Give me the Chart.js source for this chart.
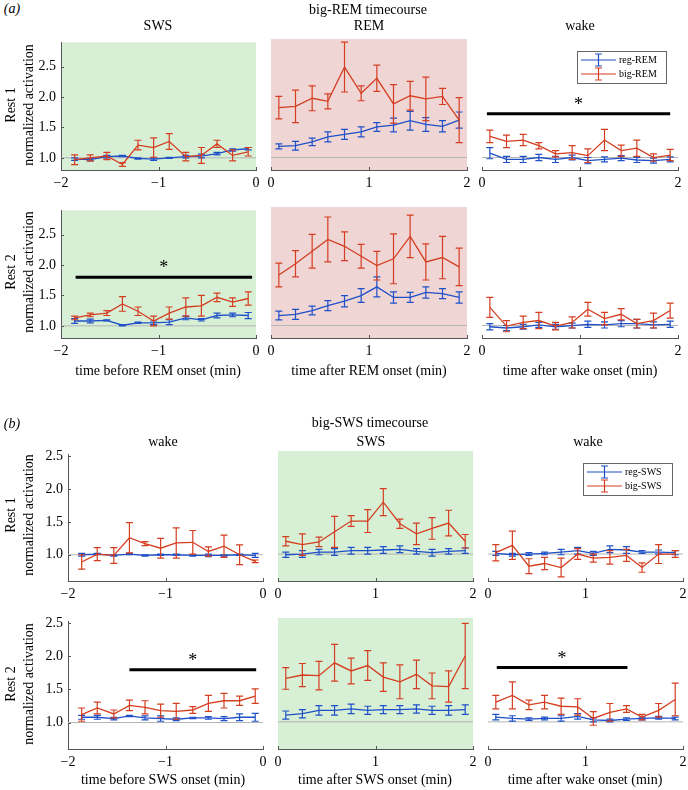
<!DOCTYPE html>
<html lang="en">
<head>
<meta charset="UTF-8">
<title>big-REM / big-SWS timecourse</title>
<script src="https://cdn.jsdelivr.net/npm/chart.js"></script>
<style>
  body { margin: 0; background: #fff; }
  #page { position: relative; width: 688px; height: 790px; overflow: hidden;
          font-family: "Liberation Serif", "DejaVu Serif", serif; color: #000; }
  #page canvas { position: absolute; }
  .lbl { position: absolute; white-space: nowrap; transform: translate(-50%, -50%);
         font-size: 14px; line-height: 1; }
  .rot { transform: translate(-50%, -50%) rotate(-90deg); }
</style>
</head>
<body>
<div id="page"></div>
<script>
// bin centres (min)
const xBefore = [-1.86, -1.70, -1.53, -1.37, -1.21, -1.05, -0.89, -0.72, -0.56, -0.40, -0.24, -0.08];
const xAfter  = [0.08, 0.25, 0.42, 0.58, 0.75, 0.92, 1.08, 1.25, 1.42, 1.58, 1.75, 1.92];
const xTicksBefore = [-2, -1, 0];
const xTicksAfter = [0, 1, 2];
const yTicks = [1.0, 1.5, 2.0, 2.5];
const seriesA = ['reg-REM', 'big-REM'];
const seriesB = ['reg-SWS', 'big-SWS'];

// (a) big-REM timecourse, Rest 1
const a1SwsBig    = [0.97, 1.00, 1.03, 0.89, 1.21, 1.17, 1.27, 1.02, 1.04, 1.23, 1.04, 1.10];
const a1SwsBigErr = [0.08, 0.05, 0.06, 0.03, 0.08, 0.16, 0.13, 0.07, 0.13, 0.06, 0.09, 0.07];
const a1SwsReg    = [0.98, 0.97, 1.02, 1.03, 0.99, 0.98, 1.00, 1.02, 1.03, 1.07, 1.13, 1.15];
const a1SwsRegErr = [0.02, 0.02, 0.02, 0.01, 0.01, 0.02, 0.01, 0.02, 0.03, 0.02, 0.02, 0.02];

const a1RemBig    = [1.80, 1.82, 1.95, 1.90, 2.45, 2.03, 2.27, 1.86, 1.99, 1.94, 1.98, 1.60];
const a1RemBigErr = [0.18, 0.26, 0.20, 0.12, 0.40, 0.12, 0.21, 0.31, 0.23, 0.35, 0.13, 0.36];
const a1RemReg    = [1.18, 1.19, 1.25, 1.33, 1.37, 1.41, 1.49, 1.52, 1.59, 1.53, 1.50, 1.60];
const a1RemRegErr = [0.04, 0.07, 0.06, 0.08, 0.08, 0.08, 0.07, 0.11, 0.15, 0.11, 0.09, 0.13];

const a1WakeBig    = [1.34, 1.26, 1.28, 1.19, 1.06, 1.08, 1.03, 1.28, 1.11, 1.15, 1.00, 1.04];
const a1WakeBigErr = [0.10, 0.10, 0.09, 0.05, 0.05, 0.11, 0.11, 0.17, 0.09, 0.13, 0.06, 0.09];
const a1WakeReg    = [1.07, 0.97, 0.97, 1.00, 0.97, 1.00, 0.95, 0.97, 0.99, 0.96, 0.95, 0.97];
const a1WakeRegErr = [0.09, 0.05, 0.05, 0.05, 0.05, 0.04, 0.05, 0.04, 0.04, 0.04, 0.04, 0.04];

// (a) Rest 2
const a2SwsBig    = [1.13, 1.18, 1.21, 1.36, 1.24, 1.08, 1.21, 1.31, 1.33, 1.47, 1.39, 1.45];
const a2SwsBigErr = [0.03, 0.03, 0.04, 0.12, 0.07, 0.08, 0.10, 0.15, 0.17, 0.07, 0.07, 0.11];
const a2SwsReg    = [1.08, 1.08, 1.09, 1.01, 1.05, 1.05, 1.06, 1.13, 1.10, 1.17, 1.18, 1.17];
const a2SwsRegErr = [0.04, 0.03, 0.01, 0.01, 0.01, 0.03, 0.04, 0.03, 0.02, 0.04, 0.03, 0.05];

const a2RemBig    = [1.81, 1.99, 2.19, 2.38, 2.27, 2.11, 1.96, 2.07, 2.43, 2.02, 2.09, 1.94];
const a2RemBigErr = [0.19, 0.21, 0.27, 0.36, 0.23, 0.19, 0.23, 0.40, 0.34, 0.29, 0.34, 0.30];
const a2RemReg    = [1.16, 1.18, 1.24, 1.32, 1.39, 1.48, 1.62, 1.45, 1.45, 1.53, 1.51, 1.45];
const a2RemRegErr = [0.07, 0.08, 0.07, 0.08, 0.09, 0.11, 0.16, 0.09, 0.08, 0.09, 0.08, 0.09];

const a2WakeBig    = [1.29, 0.99, 1.05, 1.08, 0.99, 1.05, 1.26, 1.11, 1.18, 1.03, 1.08, 1.24];
const a2WakeBigErr = [0.16, 0.09, 0.10, 0.13, 0.06, 0.09, 0.11, 0.10, 0.09, 0.07, 0.12, 0.12];
const a2WakeReg    = [0.98, 0.96, 0.98, 1.01, 0.98, 1.00, 1.02, 1.01, 1.03, 1.03, 1.01, 1.02];
const a2WakeRegErr = [0.05, 0.04, 0.04, 0.04, 0.04, 0.04, 0.05, 0.05, 0.05, 0.07, 0.05, 0.05];

// (b) big-SWS timecourse, Rest 1
const b1PreBig    = [0.89, 1.01, 0.99, 1.26, 1.17, 1.10, 1.18, 1.19, 1.05, 1.13, 1.00, 0.90];
const b1PreBigErr = [0.11, 0.10, 0.12, 0.23, 0.03, 0.15, 0.23, 0.18, 0.07, 0.17, 0.15, 0.02];
const b1PreReg    = [1.00, 1.01, 0.99, 1.01, 0.99, 1.00, 1.00, 0.99, 0.99, 0.99, 1.00, 0.99];
const b1PreRegErr = [0.02, 0.01, 0.01, 0.01, 0.01, 0.01, 0.01, 0.01, 0.02, 0.01, 0.01, 0.03];

const b1SwsBig    = [1.19, 1.14, 1.18, 1.33, 1.49, 1.49, 1.77, 1.45, 1.30, 1.38, 1.46, 1.19];
const b1SwsBigErr = [0.07, 0.16, 0.07, 0.23, 0.08, 0.17, 0.20, 0.07, 0.16, 0.16, 0.19, 0.10];
const b1SwsReg    = [0.99, 1.00, 1.03, 1.03, 1.05, 1.05, 1.06, 1.07, 1.04, 1.02, 1.04, 1.05];
const b1SwsRegErr = [0.04, 0.05, 0.04, 0.05, 0.05, 0.05, 0.05, 0.05, 0.04, 0.05, 0.04, 0.04];

const b1WakeBig    = [1.02, 1.13, 0.82, 0.86, 0.80, 1.00, 0.94, 0.95, 0.98, 0.80, 1.00, 1.00];
const b1WakeBigErr = [0.12, 0.21, 0.11, 0.09, 0.14, 0.08, 0.06, 0.10, 0.09, 0.07, 0.14, 0.05];
const b1WakeReg    = [1.01, 0.99, 1.00, 1.01, 1.03, 1.05, 1.01, 1.07, 1.06, 1.03, 1.03, 1.02];
const b1WakeRegErr = [0.03, 0.02, 0.02, 0.02, 0.04, 0.05, 0.03, 0.05, 0.05, 0.02, 0.03, 0.03];

// (b) Rest 2
const b2PreBig    = [1.12, 1.22, 1.13, 1.26, 1.23, 1.18, 1.17, 1.19, 1.29, 1.33, 1.33, 1.40];
const b2PreBigErr = [0.10, 0.09, 0.06, 0.08, 0.10, 0.10, 0.12, 0.05, 0.12, 0.11, 0.07, 0.11];
const b2PreReg    = [1.08, 1.08, 1.06, 1.10, 1.07, 1.06, 1.05, 1.07, 1.07, 1.06, 1.08, 1.08];
const b2PreRegErr = [0.03, 0.03, 0.02, 0.01, 0.03, 0.04, 0.02, 0.01, 0.02, 0.03, 0.05, 0.06];

const b2SwsBig    = [1.64, 1.69, 1.68, 1.87, 1.75, 1.83, 1.66, 1.59, 1.70, 1.53, 1.52, 1.97];
const b2SwsBigErr = [0.16, 0.17, 0.21, 0.27, 0.19, 0.22, 0.21, 0.25, 0.21, 0.19, 0.23, 0.48];
const b2SwsReg    = [1.10, 1.12, 1.17, 1.17, 1.19, 1.17, 1.18, 1.18, 1.19, 1.17, 1.17, 1.18];
const b2SwsRegErr = [0.06, 0.06, 0.07, 0.07, 0.07, 0.06, 0.06, 0.06, 0.06, 0.06, 0.07, 0.07];

const b2WakeBig    = [1.29, 1.39, 1.25, 1.29, 1.23, 1.22, 1.05, 1.14, 1.19, 1.07, 1.17, 1.33];
const b2WakeBigErr = [0.10, 0.20, 0.07, 0.10, 0.12, 0.12, 0.10, 0.13, 0.05, 0.04, 0.10, 0.24];
const b2WakeReg    = [1.07, 1.05, 1.04, 1.05, 1.05, 1.08, 1.03, 1.02, 1.04, 1.05, 1.06, 1.05];
const b2WakeRegErr = [0.04, 0.04, 0.02, 0.02, 0.04, 0.04, 0.03, 0.02, 0.02, 0.02, 0.02, 0.02];

// significance bars: [x from, x to], y level
const sigA1Wake = { x: [0.05, 1.92], y: 1.70 };
const sigA2Sws  = { x: [-1.85, -0.04], y: 1.80 };
const sigB2Pre  = { x: [-1.37, -0.07], y: 1.80 };
const sigB2Wake = { x: [0.09, 1.43], y: 1.80 };

const RED = 'rgb(212,62,32)';
const BLUE = 'rgb(30,80,200)';
const GREEN = 'rgb(215,239,213)';
const PINK = 'rgb(240,213,213)';
const REF = '#b4b4b4';
const AXIS = '#555';
const FONT = '"Liberation Serif", "DejaVu Serif", serif';

const page = document.getElementById('page');

function label(text, x, y, opts = {}) {
  const d = document.createElement('div');
  d.className = 'lbl' + (opts.rot ? ' rot' : '');
  d.textContent = text;
  d.style.left = x + 'px';
  d.style.top = y + 'px';
  if (opts.italic) d.style.fontStyle = 'italic';
  if (opts.size) d.style.fontSize = opts.size + 'px';
  page.appendChild(d);
}

// error bars, background, significance bar, legend
const panelPlugin = {
  id: 'panel',
  beforeDraw(chart, args, opts) {
    if (!opts.bg) return;
    const a = chart.chartArea, ctx = chart.ctx;
    ctx.save();
    ctx.fillStyle = opts.bg;
    ctx.fillRect(a.left, a.top, a.right - a.left, a.bottom - a.top);
    ctx.restore();
  },
  afterDatasetDraw(chart, args) {
    const ds = chart.data.datasets[args.index];
    if (!ds.err) return;
    const xs = chart.scales.x, ys = chart.scales.y, ctx = chart.ctx;
    ctx.save();
    ctx.strokeStyle = ds.borderColor;
    ctx.lineWidth = 1.2;
    ds.data.forEach((p, i) => {
      const px = xs.getPixelForValue(p.x);
      const lo = ys.getPixelForValue(p.y - ds.err[i]);
      const hi = ys.getPixelForValue(p.y + ds.err[i]);
      ctx.beginPath();
      ctx.moveTo(px, lo); ctx.lineTo(px, hi);
      ctx.moveTo(px - 3.5, lo); ctx.lineTo(px + 3.5, lo);
      ctx.moveTo(px - 3.5, hi); ctx.lineTo(px + 3.5, hi);
      ctx.stroke();
    });
    ctx.restore();
  },
  afterDraw(chart, args, opts) {
    const xs = chart.scales.x, ys = chart.scales.y, ctx = chart.ctx, a = chart.chartArea;
    ctx.save();
    // inward tick marks
    ctx.strokeStyle = AXIS;
    ctx.lineWidth = 1;
    ctx.beginPath();
    xs.ticks.forEach(t => {
      const px = Math.round(xs.getPixelForValue(t.value)) + 0.5;
      ctx.moveTo(px, a.bottom); ctx.lineTo(px, a.bottom - 3);
    });
    if (opts.yAxis) {
      ys.ticks.forEach(t => {
        const py = Math.round(ys.getPixelForValue(t.value)) + 0.5;
        ctx.moveTo(a.left, py); ctx.lineTo(a.left + 3, py);
      });
    }
    ctx.stroke();
    if (opts.sig) {
      const x0 = xs.getPixelForValue(opts.sig.x[0]);
      const x1 = xs.getPixelForValue(opts.sig.x[1]);
      const y = ys.getPixelForValue(opts.sig.y);
      ctx.strokeStyle = '#000';
      ctx.lineWidth = 3;
      ctx.beginPath();
      ctx.moveTo(x0, y); ctx.lineTo(x1, y);
      ctx.stroke();
      ctx.fillStyle = '#000';
      ctx.font = '18px ' + FONT;
      ctx.textAlign = 'center';
      ctx.textBaseline = 'alphabetic';
      ctx.fillText('*', (x0 + x1) / 2, y - 4);
    }
    if (opts.legend) {
      const lx = a.left + 95, ly = a.top + 12;
      ctx.fillStyle = '#fff';
      ctx.fillRect(lx, ly, 89, 32);
      ctx.strokeStyle = '#666';
      ctx.lineWidth = 1;
      ctx.strokeRect(lx + 0.5, ly + 0.5, 89, 32);
      [BLUE, RED].forEach((c, i) => {
        const ey = ly + 9 + i * 14;
        ctx.strokeStyle = c;
        ctx.lineWidth = 1.2;
        ctx.beginPath();
        ctx.moveTo(lx + 4, ey); ctx.lineTo(lx + 39, ey);
        const cx = lx + 21.5;
        ctx.moveTo(cx, ey - 6); ctx.lineTo(cx, ey + 6);
        ctx.moveTo(cx - 3.5, ey - 6); ctx.lineTo(cx + 3.5, ey - 6);
        ctx.moveTo(cx - 3.5, ey + 6); ctx.lineTo(cx + 3.5, ey + 6);
        ctx.stroke();
        ctx.fillStyle = '#000';
        ctx.font = '10px ' + FONT;
        ctx.textAlign = 'left';
        ctx.textBaseline = 'middle';
        ctx.fillText(opts.legend[i], lx + 42, ey + 0.5);
      });
    }
    ctx.restore();
  }
};

const PL = 45, PR = 10, PT = 10, PB = 26;

function pts(xv, yv) { return xv.map((x, i) => ({ x: x, y: yv[i] })); }

function panel(cfg) {
  const [L, T, R, B] = cfg.area;
  const cv = document.createElement('canvas');
  cv.width = (R - L) + PL + PR;
  cv.height = (B - T) + PT + PB;
  cv.style.left = (L - PL) + 'px';
  cv.style.top = (T - PT) + 'px';
  page.appendChild(cv);
  const xt = cfg.x[0] < 0 ? xTicksBefore : xTicksAfter;
  const xr = cfg.x[0] < 0 ? [-2, 0] : [0, 2];
  new Chart(cv, {
    type: 'line',
    data: {
      datasets: [
        { data: [{ x: xr[0], y: 1 }, { x: xr[1], y: 1 }], borderColor: REF, borderWidth: 1, pointRadius: 0, order: 3 },
        { data: pts(cfg.x, cfg.reg), err: cfg.regErr, borderColor: BLUE, borderWidth: 1.3, pointRadius: 0, order: 2 },
        { data: pts(cfg.x, cfg.big), err: cfg.bigErr, borderColor: RED, borderWidth: 1.3, pointRadius: 0, order: 1 }
      ]
    },
    options: {
      responsive: false,
      animation: false,
      events: [],
      layout: { padding: { top: PT, right: PR, left: 0, bottom: 0 } },
      plugins: {
        legend: { display: false },
        tooltip: { enabled: false },
        panel: { bg: cfg.bg, sig: cfg.sig, legend: cfg.legend, yAxis: cfg.yAxis }
      },
      scales: {
        x: {
          type: 'linear', min: xr[0], max: xr[1],
          afterBuildTicks: s => { s.ticks = xt.map(v => ({ value: v })); },
          afterFit: s => { s.height = PB; },
          grid: { display: true, drawOnChartArea: false, drawTicks: false },
          border: { display: true, color: AXIS, width: 1 },
          ticks: { padding: 5, color: '#000', font: { family: FONT, size: 14 },
                   callback: v => v < 0 ? '\u2212' + Math.abs(v) : String(v) }
        },
        y: {
          type: 'linear', min: cfg.yr[0], max: cfg.yr[1],
          afterBuildTicks: s => { s.ticks = yTicks.map(v => ({ value: v })); },
          afterFit: s => { s.width = PL; },
          grid: { display: true, drawOnChartArea: false, drawTicks: false },
          border: { display: !!cfg.yAxis, color: AXIS, width: 1 },
          ticks: { display: !!cfg.yAxis, padding: 5, color: '#000', font: { family: FONT, size: 14 },
                   callback: v => v.toFixed(1) }
        }
      }
    },
    plugins: [panelPlugin]
  });
}

const yRangeA = [0.8, 2.9];
const yRangeB = [0.6, 2.53];

panel({ area: [61, 39, 256, 170.5], yr: yRangeA, x: xBefore, reg: a1SwsReg, regErr: a1SwsRegErr, big: a1SwsBig, bigErr: a1SwsBigErr, bg: GREEN, yAxis: true });
panel({ area: [271, 39, 467, 170.5], yr: yRangeA, x: xAfter, reg: a1RemReg, regErr: a1RemRegErr, big: a1RemBig, bigErr: a1RemBigErr, bg: PINK });
panel({ area: [482, 39, 678, 170.5], yr: yRangeA, x: xAfter, reg: a1WakeReg, regErr: a1WakeRegErr, big: a1WakeBig, bigErr: a1WakeBigErr, sig: sigA1Wake, legend: seriesA });
panel({ area: [61, 207, 256, 338.5], yr: yRangeA, x: xBefore, reg: a2SwsReg, regErr: a2SwsRegErr, big: a2SwsBig, bigErr: a2SwsBigErr, bg: GREEN, yAxis: true, sig: sigA2Sws });
panel({ area: [271, 207, 467, 338.5], yr: yRangeA, x: xAfter, reg: a2RemReg, regErr: a2RemRegErr, big: a2RemBig, bigErr: a2RemBigErr, bg: PINK });
panel({ area: [482, 207, 678, 338.5], yr: yRangeA, x: xAfter, reg: a2WakeReg, regErr: a2WakeRegErr, big: a2WakeBig, bigErr: a2WakeBigErr });

panel({ area: [68, 450.5, 263, 581], yr: yRangeB, x: xBefore, reg: b1PreReg, regErr: b1PreRegErr, big: b1PreBig, bigErr: b1PreBigErr, yAxis: true });
panel({ area: [277.5, 450.5, 473, 581], yr: yRangeB, x: xAfter, reg: b1SwsReg, regErr: b1SwsRegErr, big: b1SwsBig, bigErr: b1SwsBigErr, bg: GREEN });
panel({ area: [488, 450.5, 683, 581], yr: yRangeB, x: xAfter, reg: b1WakeReg, regErr: b1WakeRegErr, big: b1WakeBig, bigErr: b1WakeBigErr, legend: seriesB });
panel({ area: [68, 618, 263, 749.5], yr: yRangeB, x: xBefore, reg: b2PreReg, regErr: b2PreRegErr, big: b2PreBig, bigErr: b2PreBigErr, yAxis: true, sig: sigB2Pre });
panel({ area: [277.5, 618, 473, 749.5], yr: yRangeB, x: xAfter, reg: b2SwsReg, regErr: b2SwsRegErr, big: b2SwsBig, bigErr: b2SwsBigErr, bg: GREEN });
panel({ area: [488, 618, 683, 749.5], yr: yRangeB, x: xAfter, reg: b2WakeReg, regErr: b2WakeRegErr, big: b2WakeBig, bigErr: b2WakeBigErr, sig: sigB2Wake });

// text
label('(a)', 12, 9, { italic: true });
label('big-REM timecourse', 368, 10);
label('SWS', 158, 26);
label('REM', 369, 26);
label('wake', 580, 26);
label('Rest 1', 11, 105, { rot: true });
label('normalized activation', 29, 105, { rot: true });
label('Rest 2', 11, 272, { rot: true });
label('normalized activation', 29, 272, { rot: true });
label('time before REM onset (min)', 158, 371);
label('time after REM onset (min)', 369, 371);
label('time after wake onset (min)', 580, 371);

label('(b)', 12, 424, { italic: true });
label('big-SWS timecourse', 370, 423);
label('wake', 163, 442);
label('SWS', 371, 442);
label('wake', 588, 442);
label('Rest 1', 11, 515, { rot: true });
label('normalized activation', 29, 515, { rot: true });
label('Rest 2', 11, 684, { rot: true });
label('normalized activation', 29, 684, { rot: true });
label('time before SWS onset (min)', 163, 780);
label('time after SWS onset (min)', 375, 780);
label('time after wake onset (min)', 585, 780);
</script>
</body>
</html>
